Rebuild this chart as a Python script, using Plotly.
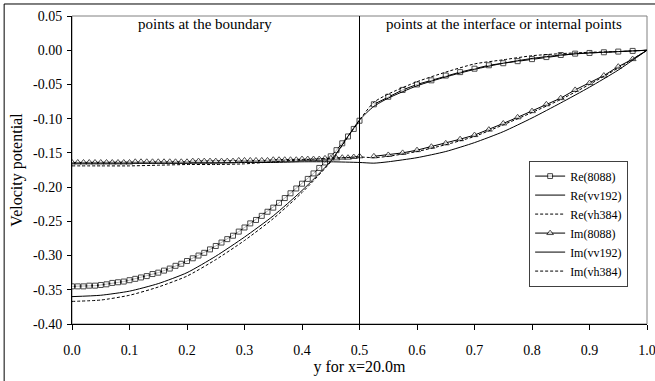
import plotly.graph_objects as go

# ---------------- data ----------------
# "8088" series: dense points on the boundary (step 0.01), sparser internal points (step 0.025)
x_8088_left = [i / 100 for i in range(51)]
re_8088_left = [-0.345, -0.345, -0.345, -0.344, -0.344, -0.343, -0.342, -0.340, -0.339, -0.338,
                -0.336, -0.334, -0.332, -0.330, -0.327, -0.325, -0.322, -0.319, -0.315, -0.312,
                -0.308, -0.304, -0.300, -0.296, -0.291, -0.286, -0.281, -0.276, -0.271, -0.265,
                -0.259, -0.253, -0.248, -0.242, -0.236, -0.230, -0.223, -0.216, -0.209, -0.202,
                -0.195, -0.188, -0.180, -0.172, -0.164, -0.155, -0.146, -0.136, -0.126, -0.115,
                -0.103]
im_8088_left = [-0.164, -0.164, -0.164, -0.164, -0.164, -0.164, -0.164, -0.164, -0.164, -0.164,
                -0.164, -0.163, -0.163, -0.163, -0.163, -0.163, -0.163, -0.163, -0.163, -0.163,
                -0.163, -0.162, -0.162, -0.162, -0.162, -0.162, -0.162, -0.162, -0.162, -0.161,
                -0.161, -0.161, -0.161, -0.161, -0.161, -0.160, -0.160, -0.160, -0.160, -0.160,
                -0.159, -0.159, -0.159, -0.159, -0.158, -0.158, -0.158, -0.157, -0.157, -0.156,
                -0.155]

x_8088_right = [0.525, 0.55, 0.575, 0.6, 0.625, 0.65, 0.675, 0.7, 0.725, 0.75,
                0.775, 0.8, 0.825, 0.85, 0.875, 0.9, 0.925, 0.95, 0.975, 1.0]
re_8088_right = [-0.079, -0.068, -0.058, -0.050, -0.044, -0.037, -0.032, -0.027, -0.022, -0.019,
                 -0.016, -0.013, -0.010, -0.007, -0.005, -0.004, -0.003, -0.002, -0.001, 0.0]
im_8088_right = [-0.155, -0.153, -0.150, -0.146, -0.141, -0.136, -0.130, -0.124, -0.116, -0.107,
                 -0.098, -0.089, -0.079, -0.070, -0.058, -0.048, -0.037, -0.024, -0.013, 0.0]

# vv192 / vh384 curves
x_curve = [0.0, 0.05, 0.1, 0.15, 0.2, 0.25, 0.3, 0.35, 0.4, 0.45, 0.5,
           0.525, 0.55, 0.6, 0.65, 0.7, 0.75, 0.8, 0.85, 0.9, 0.95, 1.0]
re_vv192 = [-0.360, -0.358, -0.352, -0.341, -0.325, -0.301, -0.273, -0.242, -0.205, -0.162, -0.102,
            -0.082, -0.070, -0.052, -0.039, -0.028, -0.019, -0.012, -0.007, -0.004, -0.002, 0.0]
re_vh384 = [-0.367, -0.365, -0.358, -0.346, -0.330, -0.306, -0.278, -0.246, -0.208, -0.163, -0.102,
            -0.076, -0.064, -0.046, -0.032, -0.020, -0.014, -0.008, -0.005, -0.003, -0.002, 0.0]
im_vv192 = [-0.165, -0.165, -0.165, -0.165, -0.165, -0.165, -0.164, -0.164, -0.163, -0.163, -0.164,
            -0.165, -0.163, -0.157, -0.148, -0.135, -0.119, -0.099, -0.077, -0.054, -0.029, 0.0]
im_vh384 = [-0.169, -0.169, -0.169, -0.168, -0.167, -0.167, -0.166, -0.163, -0.160, -0.158, -0.156,
            -0.157, -0.155, -0.148, -0.138, -0.126, -0.109, -0.091, -0.072, -0.050, -0.026, 0.0]

x_ticks = [0.0, 0.1, 0.2, 0.3, 0.4, 0.5, 0.6, 0.7, 0.8, 0.9, 1.0]
x_ticktext = ["0.0", "0.1", "0.2", "0.3", "0.4", "0.5", "0.6", "0.7", "0.8", "0.9", "1.0"]
y_ticks = [0.05, 0.0, -0.05, -0.10, -0.15, -0.20, -0.25, -0.30, -0.35, -0.40]
y_ticktext = ["0.05", "0.00", "-0.05", "-0.10", "-0.15", "-0.20", "-0.25", "-0.30", "-0.35", "-0.40"]

# ---------------- figure ----------------
FONT = "Liberation Serif, Times New Roman, serif"
fig = go.Figure()

x_8088 = x_8088_left + [None] + x_8088_right
sizes_sq = [5] * len(x_8088_left) + [0] + [5] * (len(x_8088_right) - 1) + [0]
sizes_tr = [6] * len(x_8088_left) + [0] + [6] * (len(x_8088_right) - 1) + [0]

fig.add_trace(go.Scatter(
    x=x_8088, y=re_8088_left + [None] + re_8088_right, name="Re(8088)",
    mode="lines+markers", line=dict(color="black", width=1),
    marker=dict(symbol="square", size=sizes_sq, color="white", line=dict(color="black", width=1)),
    connectgaps=False))
fig.add_trace(go.Scatter(
    x=x_curve, y=re_vv192, name="Re(vv192)", mode="lines",
    line=dict(color="black", width=1, shape="spline", smoothing=0.6)))
fig.add_trace(go.Scatter(
    x=x_curve, y=re_vh384, name="Re(vh384)", mode="lines",
    line=dict(color="black", width=1, dash="3px,2px", shape="spline", smoothing=0.6)))
fig.add_trace(go.Scatter(
    x=x_8088, y=im_8088_left + [None] + im_8088_right, name="Im(8088)",
    mode="lines+markers", line=dict(color="black", width=1),
    marker=dict(symbol="triangle-up", size=sizes_tr, color="white", line=dict(color="black", width=1)),
    connectgaps=False))
fig.add_trace(go.Scatter(
    x=x_curve, y=im_vv192, name="Im(vv192)", mode="lines",
    line=dict(color="black", width=1, shape="spline", smoothing=0.6)))
fig.add_trace(go.Scatter(
    x=x_curve, y=im_vh384, name="Im(vh384)", mode="lines",
    line=dict(color="black", width=1, dash="3px,2px", shape="spline", smoothing=0.6)))

fig.update_layout(
    width=655, height=381,
    margin=dict(l=72, r=8, t=16, b=57, autoexpand=False),
    paper_bgcolor="white", plot_bgcolor="white",
    font=dict(family=FONT, size=14, color="black"),
    showlegend=True,
    legend=dict(x=0.795, y=0.326, xanchor="left", yanchor="middle",
                bgcolor="white", bordercolor="#404040", borderwidth=1,
                font=dict(family=FONT, size=12, color="black"),
                tracegroupgap=0),
    xaxis=dict(range=[0, 1], tickvals=x_ticks, ticktext=x_ticktext,
               ticks="outside", ticklen=5, tickcolor="black",
               showline=True, linecolor="black", linewidth=1,
               showgrid=False, zeroline=False, automargin=False,
               ticklabeloverflow="allow", ticklabelstandoff=8,
               title=dict(text="y for x=20.0m", font=dict(family=FONT, size=16), standoff=4),
               tickfont=dict(family=FONT, size=14)),
    yaxis=dict(range=[-0.40, 0.05], tickvals=y_ticks, ticktext=y_ticktext,
               ticks="outside", ticklen=4, tickcolor="black",
               showline=True, linecolor="black", linewidth=1,
               showgrid=False, zeroline=False, ticklabelstandoff=2, automargin=False,
               title=dict(text="Velocity potential", font=dict(family=FONT, size=16), standoff=6),
               tickfont=dict(family=FONT, size=14)),
    shapes=[
        # frame of the plot area (top & right)
        dict(type="rect", xref="paper", yref="paper", x0=0, x1=1, y0=0, y1=1,
             line=dict(color="#808080", width=1), layer="below"),
        # divider between boundary and interior points
        dict(type="line", xref="x", yref="paper", x0=0.5, x1=0.5, y0=0, y1=1,
             line=dict(color="black", width=1)),
        # outer chart border
        dict(type="rect", xref="paper", yref="paper", x0=-0.118, x1=1.2, y0=-0.3, y1=1.039,
             line=dict(color="black", width=1), layer="below"),
    ],
    annotations=[
        dict(text="points at the boundary", xref="paper", yref="paper", x=0.231, y=0.974,
             showarrow=False, font=dict(family=FONT, size=15), xanchor="center", yanchor="middle"),
        dict(text="points at the interface or internal points", xref="paper", yref="paper",
             x=0.752, y=0.974, showarrow=False, font=dict(family=FONT, size=15),
             xanchor="center", yanchor="middle"),
    ],
)

fig.write_html("out.html")
